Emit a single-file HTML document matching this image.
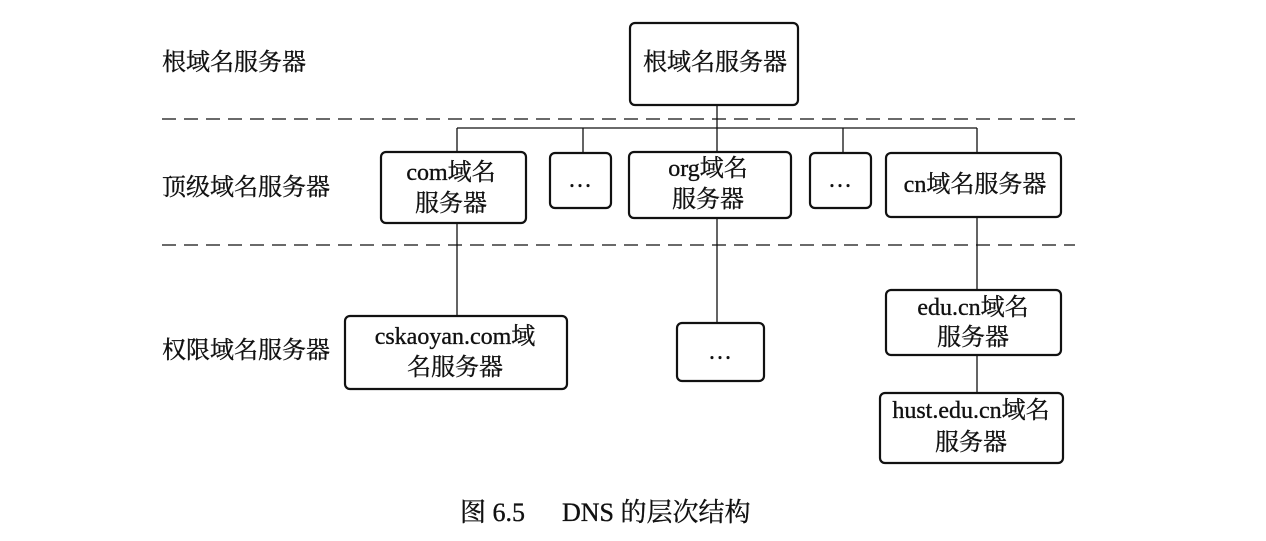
<!DOCTYPE html>
<html><head><meta charset="utf-8"><style>
body{margin:0;width:1266px;height:536px;background:#fff;overflow:hidden}
svg text{font-family:"Liberation Serif","Noto Serif CJK SC",serif;font-size:24px;fill:#111;stroke:#111;stroke-width:0.35}
</style></head><body>
<svg width="1266" height="536" xmlns="http://www.w3.org/2000/svg">
<g stroke="#111" stroke-width="1.3" fill="none">
<line x1="162" y1="119" x2="1075" y2="119" stroke-dasharray="14,8"/>
<line x1="162" y1="245" x2="1075" y2="245" stroke-dasharray="14,8"/>
<line x1="717" y1="105" x2="717" y2="152"/>
<line x1="457" y1="128" x2="977" y2="128"/>
<line x1="457" y1="128" x2="457" y2="152"/>
<line x1="583" y1="128" x2="583" y2="153"/>
<line x1="843" y1="128" x2="843" y2="153"/>
<line x1="977" y1="128" x2="977" y2="153"/>
<line x1="457" y1="223" x2="457" y2="316"/>
<line x1="717" y1="218" x2="717" y2="323"/>
<line x1="977" y1="217" x2="977" y2="290"/>
<line x1="977" y1="355" x2="977" y2="393"/>
</g>
<g stroke="#111" stroke-width="2.2" fill="#fff">
<rect x="630" y="23" width="168" height="82" rx="5"/>
<rect x="381" y="152" width="145" height="71" rx="5"/>
<rect x="550" y="153" width="61" height="55" rx="5"/>
<rect x="629" y="152" width="162" height="66" rx="5"/>
<rect x="810" y="153" width="61" height="55" rx="5"/>
<rect x="886" y="153" width="175" height="64" rx="5"/>
<rect x="345" y="316" width="222" height="73" rx="5"/>
<rect x="677" y="323" width="87" height="58" rx="5"/>
<rect x="886" y="290" width="175" height="65" rx="5"/>
<rect x="880" y="393" width="183" height="70" rx="5"/>
</g>
<text x="162" y="70">根域名服务器</text>
<text x="162" y="195">顶级域名服务器</text>
<text x="162" y="358">权限域名服务器</text>
<g text-anchor="middle">
<text x="715" y="70">根域名服务器</text>
<text x="451" y="180">com域名</text><text x="451" y="211">服务器</text>
<text x="580" y="187">…</text>
<text x="708" y="176">org域名</text><text x="708" y="207">服务器</text>
<text x="840" y="187">…</text>
<text x="975" y="192">cn域名服务器</text>
<text x="455" y="344">cskaoyan.com域</text><text x="455" y="375">名服务器</text>
<text x="720" y="359">…</text>
<text x="973" y="315">edu.cn域名</text><text x="973" y="345">服务器</text>
<text x="971" y="418">hust.edu.cn域名</text><text x="971" y="450">服务器</text>
</g>
<text x="460" y="521" style="font-size:26px">图 6.5</text>
<text x="562" y="521" style="font-size:26px">DNS 的层次结构</text>
</svg>
</body></html>
